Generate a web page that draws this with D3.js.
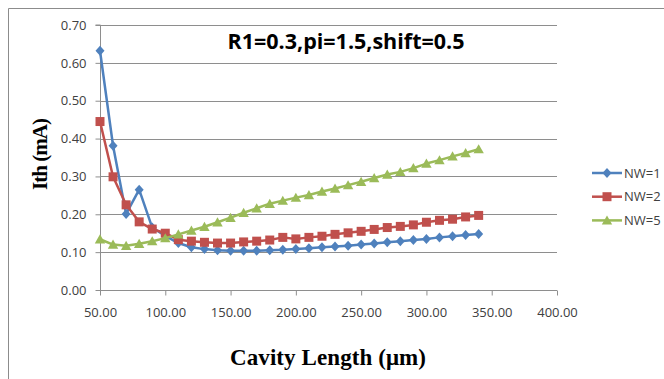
<!DOCTYPE html>
<html><head><meta charset="utf-8">
<script src="https://cdn.jsdelivr.net/npm/d3@7"></script>
<style>body{margin:0;background:#fff;} svg{display:block;}</style>
</head><body><svg id="c" width="664" height="379"></svg>
<script>
const lengths = [50,60,70,80,90,100,110,120,130,140,150,160,170,180,190,200,210,220,230,240,250,260,270,280,290,300,310,320,330,340];
const nw1 = [0.632,0.381,0.201,0.265,0.165,0.143,0.124,0.113,0.108,0.105,0.104,0.104,0.104,0.105,0.106,0.108,0.110,0.113,0.115,0.117,0.120,0.123,0.126,0.129,0.132,0.135,0.139,0.142,0.145,0.148];
const nw2 = [0.445,0.299,0.225,0.180,0.161,0.150,0.133,0.129,0.126,0.124,0.124,0.127,0.129,0.132,0.139,0.135,0.139,0.142,0.147,0.151,0.155,0.160,0.165,0.168,0.172,0.179,0.184,0.187,0.193,0.197];
const nw5 = [0.134,0.120,0.117,0.122,0.129,0.137,0.147,0.157,0.167,0.179,0.191,0.204,0.216,0.228,0.236,0.244,0.251,0.260,0.268,0.277,0.286,0.296,0.305,0.312,0.322,0.334,0.343,0.353,0.362,0.372];
const seriesNames = ["NW=1","NW=2","NW=5"];
const xTicks = [50,100,150,200,250,300,350,400];
const yTicks = [0,0.1,0.2,0.3,0.4,0.5,0.6,0.7];
const titleText = "R1=0.3,pi=1.5,shift=0.5";
const xTitle = "Cavity Length (\u03bcm)";
const yTitle = "Ith (mA)";

const colors = ["#4F81BD","#C0504D","#9BBB59"];
const shapes = ["diamond","square","triangle"];
const series = [nw1,nw2,nw5].map((v,i)=>({name:seriesNames[i], color:colors[i], shape:shapes[i], values:v}));

const svg = d3.select("#c");
const x = d3.scaleLinear().domain([50,400]).range([100,557]);
const y = d3.scaleLinear().domain([0,0.7]).range([290,25]);

// outer frame (partial, as in reference)
svg.append("path").attr("d","M8.5,379 L8.5,8.5 L664,8.5").attr("fill","none").attr("stroke","#8c8c8c").attr("stroke-width",1);

const tickFont = "'Open Sans', sans-serif";
// gridlines
svg.append("g").selectAll("line").data(yTicks.filter(d=>d>0)).join("line")
  .attr("x1",x(50)).attr("x2",x(400)).attr("y1",d=>Math.round(y(d))+0.5).attr("y2",d=>Math.round(y(d))+0.5)
  .attr("stroke","#8e8e8e").attr("stroke-width",1);

// y axis
const yAxis = d3.axisLeft(y).tickValues(yTicks).tickFormat(d3.format(".2f")).tickSize(5).tickPadding(9);
const gy = svg.append("g").attr("transform",`translate(${x(50)+0.5},0)`).call(yAxis);
gy.select(".domain").attr("stroke","#8e8e8e").attr("d",`M-5,${y(0.7)}H0V${y(0)}`);
gy.selectAll(".tick line").attr("stroke","#8e8e8e");
gy.selectAll(".tick text").attr("fill","#404040").style("font-family",tickFont).style("font-size","13px");

// x axis
const xAxis = d3.axisBottom(x).tickValues(xTicks).tickFormat(d3.format(".2f")).tickSize(5).tickPadding(12);
const gx = svg.append("g").attr("transform",`translate(0,${Math.round(y(0))+0.5})`).call(xAxis);
gx.select(".domain").attr("stroke","#8e8e8e").attr("d",`M${x(50)},0H${x(400)}`);
gx.selectAll(".tick line").attr("stroke","#8e8e8e");
gx.selectAll(".tick text").attr("fill","#404040").style("font-family",tickFont).style("font-size","13px");

// lines and markers
function symbolPath(shape){
  if(shape==="diamond") return "M0,-5L4.5,0L0,5L-4.5,0Z";
  if(shape==="square") return "M-4.5,-4.5H4.5V4.5H-4.5Z";
  return "M0,-5L5.2,4.2H-5.2Z";
}
const line = d3.line().x((d,i)=>x(lengths[i])).y(d=>y(d));
series.forEach(s=>{
  const g = svg.append("g");
  g.append("path").datum(s.values).attr("d",line).attr("fill","none").attr("stroke",s.color).attr("stroke-width",2.5).attr("stroke-linejoin","round");
  g.selectAll("path.m").data(s.values).join("path").attr("class","m")
    .attr("d",symbolPath(s.shape)).attr("transform",(d,i)=>`translate(${x(lengths[i])},${y(d)})`)
    .attr("fill",s.color);
});

// title
svg.append("text").attr("x",346).attr("y",49).attr("text-anchor","middle")
  .style("font-family","'Open Sans', sans-serif").style("font-weight","bold").style("font-size","21.5px").attr("fill","#000").text(titleText);

// axis titles
svg.append("text").attr("transform","translate(47,154) rotate(-90)").attr("text-anchor","middle")
  .attr("textLength",72).attr("lengthAdjust","spacing")
  .style("font-family","'Liberation Serif', serif").style("font-weight","bold").style("font-size","21px").attr("fill","#000").text(yTitle);
svg.append("text").attr("x",328).attr("y",365).attr("text-anchor","middle")
  .attr("textLength",196).attr("lengthAdjust","spacing")
  .style("font-family","'Liberation Serif', serif").style("font-weight","bold").style("font-size","23px").attr("fill","#000").text(xTitle);

// legend
const leg = svg.append("g").selectAll("g").data(series).join("g").attr("transform",(d,i)=>`translate(592,${173+i*23.7})`);
leg.append("line").attr("x1",0).attr("x2",30).attr("stroke",d=>d.color).attr("stroke-width",2.5);
leg.append("path").attr("d",d=>symbolPath(d.shape)).attr("transform","translate(15,0)").attr("fill",d=>d.color);
leg.append("text").attr("x",32).attr("y",4.5).style("font-family",tickFont).style("font-size","13px").attr("fill","#404040").text(d=>d.name);
</script></body></html>
